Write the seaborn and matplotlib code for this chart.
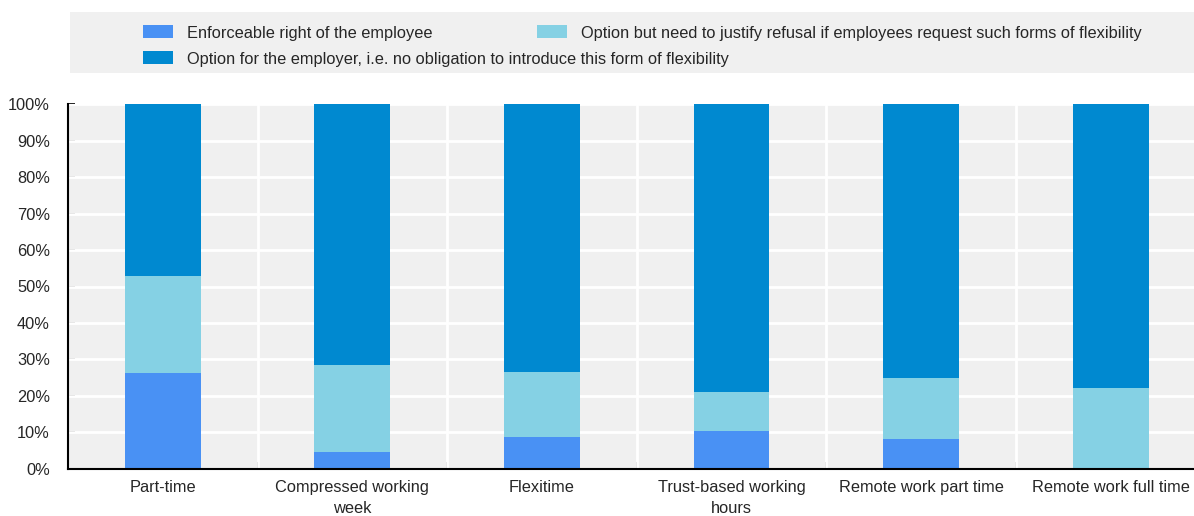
import matplotlib
matplotlib.use("Agg")
import matplotlib.pyplot as plt
import matplotlib.patches as mpatches
from matplotlib.ticker import FixedLocator, FuncFormatter
import seaborn as sns
import numpy as np
import pandas as pd

categories = ["Part-time", "Compressed working\nweek", "Flexitime",
              "Trust-based working\nhours", "Remote work part time", "Remote work full time"]
enforceable = [26.3, 4.7, 8.7, 10.4, 8.2, 0.0]
justify = [26.6, 23.8, 17.8, 10.6, 16.8, 22.2]
employer = [47.1, 71.5, 73.5, 79.0, 75.0, 77.8]
series_names = ["Enforceable right of the employee",
                "Option but need to justify refusal if employees request such forms of flexibility",
                "Option for the employer, i.e. no obligation to introduce this form of flexibility"]
yticks = [0, 10, 20, 30, 40, 50, 60, 70, 80, 90, 100]

colors = ["#4991F4", "#85D1E4", "#0089D0"]

sns.set_theme(style="white")
plt.rcParams['font.family'] = ['Liberation Sans Narrow', 'Liberation Sans', 'DejaVu Sans']
FS = 11.8

fig = plt.figure(figsize=(11.94, 5.16), dpi=100)
ax = fig.add_axes([68/1194, 1-468.7/516, 1-68/1194, (468.7-104.3)/516])
ax.set_facecolor("#F0F0F0")

e = np.array(enforceable)
j = np.array(justify)
m = np.array(employer)
df = pd.DataFrame({"cat": categories,
                   "top": e + j + m,
                   "mid": e + j,
                   "low": e})
for col, c in zip(["top", "mid", "low"], [colors[2], colors[1], colors[0]]):
    sns.barplot(data=df, x="cat", y=col, color=c, width=0.4, linewidth=0,
                saturation=1, ax=ax, zorder=3)

ax.set_xlim(-0.5, 5.44)
ax.set_ylim(0, 100)
ax.set_xlabel("")
ax.set_ylabel("")

# grid
for y in yticks[1:]:
    ax.axhline(y, color="white", lw=2, zorder=1)
for xb in np.arange(0.5, len(categories) - 0.5, 1):
    ax.axvline(xb, color="white", lw=2, zorder=1)

ax.yaxis.set_major_locator(FixedLocator(yticks))
ax.yaxis.set_major_formatter(FuncFormatter(lambda v, p: f"{int(v)}%"))
ax.tick_params(axis="y", direction="in", length=5, width=1.2, color="black",
               labelsize=FS, pad=13, left=True)

ax.xaxis.set_major_locator(FixedLocator(np.arange(-0.5, len(categories), 1)))
ax.xaxis.set_major_formatter(FuncFormatter(lambda v, p: ""))
ax.xaxis.set_minor_locator(FixedLocator(np.arange(len(categories))))
ax.set_xticklabels(categories, minor=True)
ax.tick_params(axis="x", which="major", direction="in", length=5, width=1.2,
               color="black", bottom=True)
ax.tick_params(axis="x", which="minor", length=0, labelsize=FS, pad=8)
for lbl in ax.get_xticklabels(minor=True):
    lbl.set_linespacing(1.5)

for s in ["top", "right"]:
    ax.spines[s].set_visible(False)
for s in ["left", "bottom"]:
    ax.spines[s].set_color("black")
    ax.spines[s].set_linewidth(1.5)
    ax.spines[s].set_zorder(5)

# legend background
fig.patches.append(mpatches.Rectangle((70/1194, 1-73/516), 1-70/1194, 61/516,
                                      transform=fig.transFigure, facecolor="#F0F0F0",
                                      edgecolor="none", zorder=0))
handles = [mpatches.Patch(facecolor=c, edgecolor="none") for c in colors]
pos = [(143, 33), (537, 33), (143, 59)]
px = FS * 100 / 72
for h, name, (x, y) in zip(handles, series_names, pos):
    lg = fig.legend([h], [name], loc="center left",
                    bbox_to_anchor=(x/1194, 1-y/516), bbox_transform=fig.transFigure,
                    frameon=False, fontsize=FS, borderpad=0, borderaxespad=0,
                    handlelength=30/px, handleheight=14/px, handletextpad=14/px)

fig.savefig("out.png", dpi=100)
